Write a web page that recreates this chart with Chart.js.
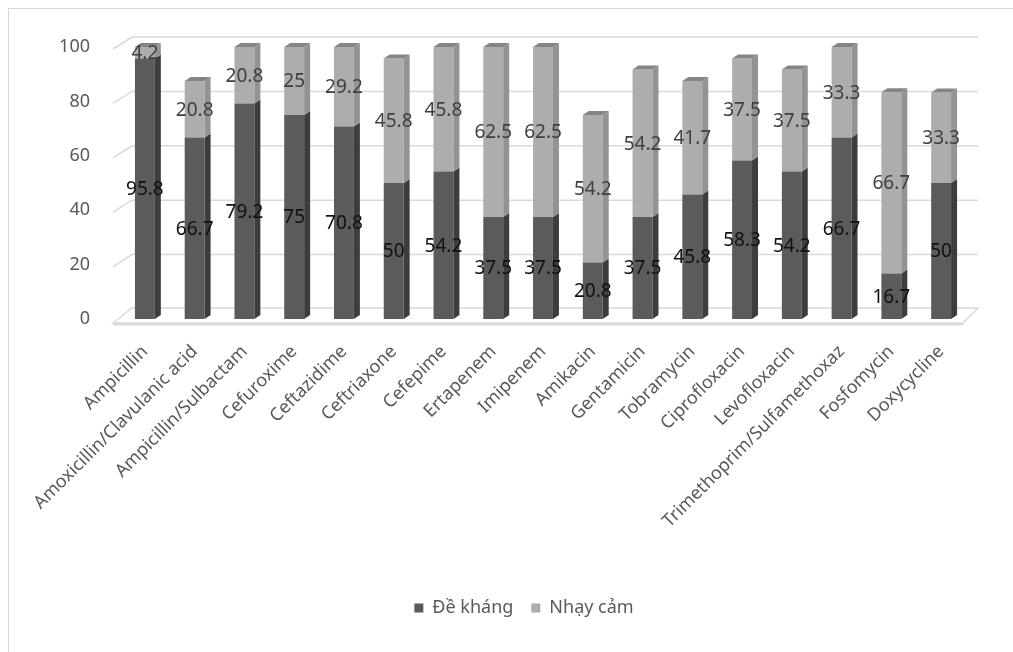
<!DOCTYPE html>
<html>
<head>
<meta charset="utf-8">
<script src="https://cdn.jsdelivr.net/npm/chart.js@4.4.1/dist/chart.umd.min.js"></script>
<style>
  html, body { margin: 0; padding: 0; background: #ffffff; }
  #wrap { position: relative; width: 1013px; height: 652px; overflow: hidden; }
  #frame { position: absolute; left: 8px; top: 8px; width: 1100px; height: 1000px;
           border-left: 1px solid #d9d9d9; border-top: 1px solid #d9d9d9; box-sizing: border-box; }
  canvas { position: absolute; left: 0; top: 0; }
</style>
</head>
<body>
<div id="wrap">
  <div id="frame"></div>
  <canvas id="chart" width="1013" height="652"></canvas>
</div>
<script>
// Antibiotics tested
const CATEGORIES = [
  'Ampicillin', 'Amoxicillin/Clavulanic acid', 'Ampicillin/Sulbactam', 'Cefuroxime',
  'Ceftazidime', 'Ceftriaxone', 'Cefepime', 'Ertapenem', 'Imipenem', 'Amikacin',
  'Gentamicin', 'Tobramycin', 'Ciprofloxacin', 'Levofloxacin',
  'Trimethoprim/Sulfamethoxaz', 'Fosfomycin', 'Doxycycline'
];
// Percentage resistant
const RESISTANT = [95.8, 66.7, 79.2, 75, 70.8, 50, 54.2, 37.5, 37.5, 20.8, 37.5, 45.8, 58.3, 54.2, 66.7, 16.7, 50];
// Percentage sensitive
const SENSITIVE = [4.2, 20.8, 20.8, 25, 29.2, 45.8, 45.8, 62.5, 62.5, 54.2, 54.2, 41.7, 37.5, 37.5, 33.3, 66.7, 33.3];
// Value axis ticks
const Y_TICKS = [0, 20, 40, 60, 80, 100];
const SERIES_NAMES = ['Đề kháng', 'Nhạy cảm'];

const FONT = '"Noto Sans", "Open Sans", sans-serif';
const TEXT_GREY = '#595959';

// Face shades for each series: front, side, top, label colour
const SHADES = [
  { front: '#5b5b5b', side: '#3d3d3d', top: '#6f6f6f', label: '#111111' },
  { front: '#adadad', side: '#939393', top: '#858585', label: '#404040' }
];

// Extruded look: bar depth and wall/floor depth
const BAR_DX = 6, BAR_DY = 4;
const WALL_DX = 19, WALL_DY = 12;

const box3d = {
  id: 'box3d',
  beforeDatasetsDraw(chart) {
    const { ctx, chartArea: a, scales: { y } } = chart;
    const leftFront = a.left - 7;
    const leftBack = leftFront + WALL_DX;
    const rightBack = a.right + 12;
    const rightFront = rightBack - 15;
    ctx.save();
    ctx.strokeStyle = '#d9d9d9';
    ctx.lineWidth = 1.5;
    y.ticks.forEach(t => {
      const py = y.getPixelForValue(t.value);
      if (t.value === 0) return;
      ctx.beginPath();
      ctx.moveTo(leftFront, py + 2);
      ctx.lineTo(leftBack, py - 10);
      ctx.lineTo(rightBack, py - 10);
      ctx.stroke();
    });
    // floor slab
    const p0 = y.getPixelForValue(0);
    ctx.beginPath();
    ctx.moveTo(leftFront, p0 + 4);
    ctx.lineTo(leftBack, p0 - 11);
    ctx.lineTo(rightBack, p0 - 11);
    ctx.lineTo(rightFront, p0 + 4);
    ctx.closePath();
    ctx.stroke();
    ctx.fillStyle = '#d9d9d9';
    ctx.fillRect(leftFront, p0 + 4, rightFront - leftFront, 2.5);
    ctx.restore();
  },
  afterDatasetsDraw(chart) {
    const { ctx } = chart;
    const n = chart.data.labels.length;
    const last = chart.data.datasets.length - 1;
    ctx.save();
    for (let i = 0; i < n; i++) {
      chart.data.datasets.forEach((ds, d) => {
        const bar = chart.getDatasetMeta(d).data[i];
        const { x, y, base, width } = bar.getProps(['x', 'y', 'base', 'width'], true);
        const l = x - width / 2, r = x + width / 2;
        const sh = SHADES[d];
        ctx.fillStyle = sh.side;
        ctx.beginPath();
        ctx.moveTo(r, y);
        ctx.lineTo(r + BAR_DX, y - BAR_DY);
        ctx.lineTo(r + BAR_DX, base - BAR_DY);
        ctx.lineTo(r, base);
        ctx.closePath();
        ctx.fill();
        if (d === last) {
          ctx.fillStyle = sh.top;
          ctx.beginPath();
          ctx.moveTo(l, y);
          ctx.lineTo(l + BAR_DX, y - BAR_DY);
          ctx.lineTo(r + BAR_DX, y - BAR_DY);
          ctx.lineTo(r, y);
          ctx.closePath();
          ctx.fill();
        }
      });
    }
    // value labels, centred on each segment
    ctx.font = '19px ' + FONT;
    ctx.textAlign = 'center';
    ctx.textBaseline = 'middle';
    chart.data.datasets.forEach((ds, d) => {
      ctx.fillStyle = SHADES[d].label;
      chart.getDatasetMeta(d).data.forEach((bar, i) => {
        const { x, y, base } = bar.getProps(['x', 'y', 'base'], true);
        ctx.fillText(String(ds.data[i]), x, (y + base) / 2 + 1);
      });
    });
    ctx.restore();
  }
};

new Chart(document.getElementById('chart'), {
  type: 'bar',
  data: {
    labels: CATEGORIES,
    datasets: [
      { label: SERIES_NAMES[0], data: RESISTANT, backgroundColor: SHADES[0].front, borderWidth: 0 },
      { label: SERIES_NAMES[1], data: SENSITIVE, backgroundColor: SHADES[1].front, borderWidth: 0 }
    ]
  },
  options: {
    responsive: false,
    devicePixelRatio: 1,
    animation: false,
    layout: { padding: { left: 40, right: 5, top: 47, bottom: 25 } },
    datasets: { bar: { barPercentage: 0.4, categoryPercentage: 1 } },
    scales: {
      x: {
        stacked: true,
        grid: { display: false },
        border: { display: false },
        ticks: {
          autoSkip: false, minRotation: 45, maxRotation: 45, padding: 14,
          color: TEXT_GREY, font: { family: FONT, size: 18 }
        },
        afterFit(s) { s.height = 262; }
      },
      y: {
        stacked: true,
        min: 0, max: 100,
        grid: { display: false },
        border: { display: false },
        ticks: {
          stepSize: 20, padding: 22,
          color: TEXT_GREY, font: { family: FONT, size: 18 },
          callback: v => Y_TICKS.includes(v) ? String(v) : ''
        },
        afterFit(s) { s.width = 80; }
      },
      yRight: {
        position: 'right',
        min: 0, max: 100,
        grid: { display: false },
        border: { display: false },
        ticks: { display: false },
        afterFit(s) { s.width = 42; }
      }
    },
    plugins: {
      legend: {
        position: 'bottom',
        labels: {
          boxWidth: 9, boxHeight: 9, padding: 18,
          color: TEXT_GREY, font: { family: FONT, size: 18 }
        }
      },
      tooltip: { enabled: false }
    }
  },
  plugins: [box3d]
});
</script>
</body>
</html>
